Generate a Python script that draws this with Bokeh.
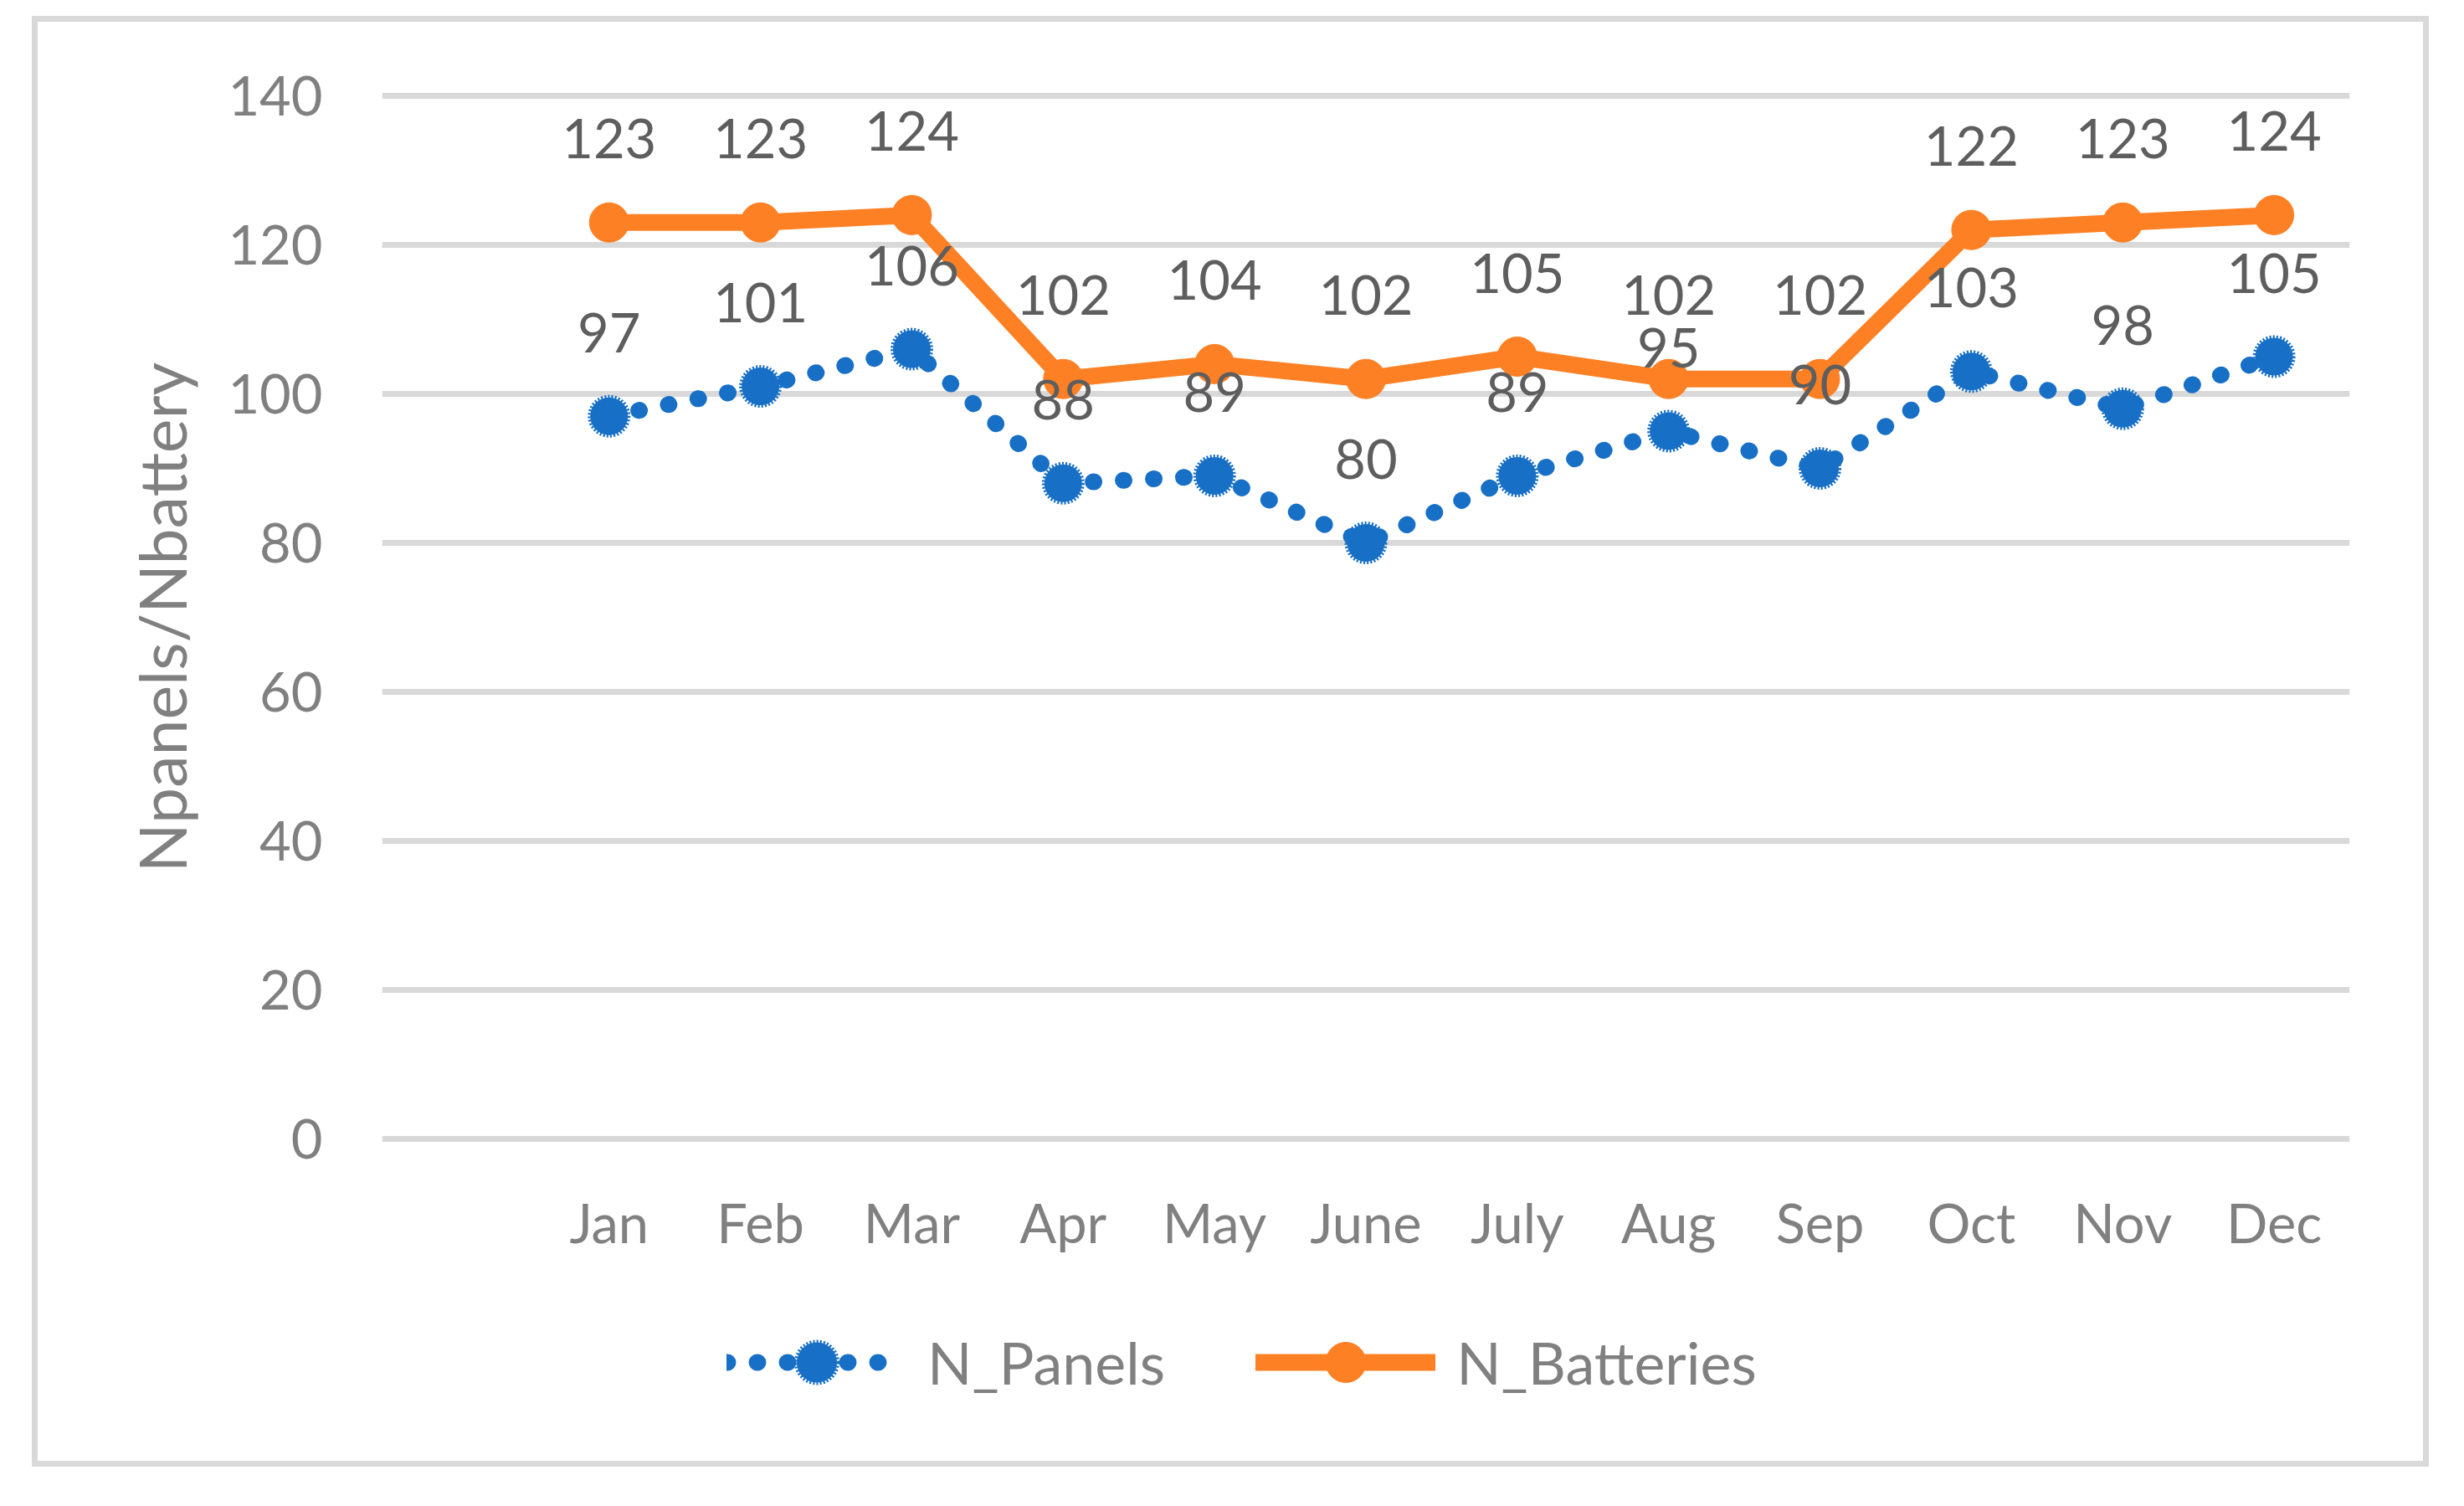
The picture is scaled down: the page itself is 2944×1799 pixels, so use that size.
from bokeh.plotting import figure
from bokeh.layouts import column
from bokeh.models import (ColumnDataSource, FactorRange, Range1d, FixedTicker,
                          Legend, LegendItem)
from bokeh.core.properties import value
from bokeh.embed import file_html
from bokeh.resources import INLINE

# ---- data ----
months = ["Jan", "Feb", "Mar", "Apr", "May", "June", "July", "Aug", "Sep", "Oct", "Nov", "Dec"]
n_panels = [97, 101, 106, 88, 89, 80, 89, 95, 90, 103, 98, 105]
n_batteries = [123, 123, 124, 102, 104, 102, 105, 102, 102, 122, 123, 124]
y_ticks = [0, 20, 40, 60, 80, 100, 120, 140]
y_title = "Npanels/Nbattery"
series_names = ["N_Panels", "N_Batteries"]

BLUE = "#1870C6"
ORANGE = "#FE8024"
TICK_GRAY = "#808080"
LABEL_GRAY = "#5E5E5E"
FONT = "Lato"
FS = "65px"

src = ColumnDataSource(dict(
    m=months,
    panels=n_panels,
    batteries=n_batteries,
    panels_txt=[str(v) for v in n_panels],
    batteries_txt=[str(v) for v in n_batteries],
))

factors = [" "] + months

PANEL_LINE = dict(line_color=BLUE, line_width=20, line_dash="1 35",
                  line_cap="round", line_join="round")
PANEL_MARK = dict(marker="circle", size=45, fill_color=BLUE, line_color=BLUE,
                  line_width=6, line_dash="2 2")
BATT_LINE = dict(line_color=ORANGE, line_width=20, line_join="round", line_cap="round")
BATT_MARK = dict(marker="circle", size=47, fill_color=ORANGE, line_color=ORANGE,
                 line_width=1)

p = figure(
    width=2850, height=1504,
    x_range=FactorRange(factors=factors, range_padding=0),
    y_range=Range1d(-0.45, 140.45),
    output_backend="svg", toolbar_location=None,
    min_border_left=411, min_border_right=88,
    min_border_top=84, min_border_bottom=166,
)
p.outline_line_color = None
p.background_fill_color = "white"
p.border_fill_color = "white"

# grid
p.xgrid.grid_line_color = None
p.ygrid.grid_line_color = "#D9D9D9"
p.ygrid.grid_line_width = 7
p.yaxis.ticker = FixedTicker(ticks=y_ticks)

# axes
for ax in (p.xaxis[0], p.yaxis[0]):
    ax.axis_line_color = None
    ax.major_tick_line_color = None
    ax.minor_tick_line_color = None
    ax.major_tick_out = 0
    ax.major_tick_in = 0
    ax.major_label_text_font = FONT
    ax.major_label_text_font_size = FS
    ax.major_label_text_color = TICK_GRAY

p.yaxis.major_label_standoff = 71
p.xaxis.major_label_standoff = 56
p.yaxis.axis_label = y_title
p.yaxis.axis_label_text_font = FONT
p.yaxis.axis_label_text_font_size = "77px"
p.yaxis.axis_label_text_font_style = "normal"
p.yaxis.axis_label_text_color = TICK_GRAY
p.yaxis.axis_label_standoff = 30

# series
p.line("m", "panels", source=src, **PANEL_LINE)
p.scatter("m", "panels", source=src, **PANEL_MARK)
p.line("m", "batteries", source=src, **BATT_LINE)
p.scatter("m", "batteries", source=src, **BATT_MARK)

# data labels
p.text("m", "panels", text="panels_txt", source=src, y_offset=-100,
       text_align="center", text_baseline="middle",
       text_font=value(FONT), text_font_size=FS, text_color=LABEL_GRAY)
p.text("m", "batteries", text="batteries_txt", source=src, y_offset=-100,
       text_align="center", text_baseline="middle",
       text_font=value(FONT), text_font_size=FS, text_color=LABEL_GRAY)

# ---- legend strip below the chart ----
lf = figure(
    width=2850, height=215,
    x_range=Range1d(0, 1), y_range=Range1d(0, 1),
    output_backend="svg", toolbar_location=None,
    x_axis_location=None, y_axis_location=None,
    min_border_left=0, min_border_right=0, min_border_top=0, min_border_bottom=0,
)
lf.outline_line_color = None
lf.grid.visible = False
lf.background_fill_color = "white"
lf.border_fill_color = "white"

# legend-only renderers (a single point outside the visible range)
e = ColumnDataSource(dict(x=[-5], y=[-5]))
r1 = lf.line("x", "y", source=e, **PANEL_LINE)
r2 = lf.scatter("x", "y", source=e, **PANEL_MARK)
r3 = lf.line("x", "y", source=e, **BATT_LINE)
r4 = lf.scatter("x", "y", source=e, **BATT_MARK)

legend = Legend(
    items=[LegendItem(label=series_names[0], renderers=[r1, r2]),
           LegendItem(label=series_names[1], renderers=[r3, r4])],
    orientation="horizontal",
    location=(412, 58),
    glyph_width=215, glyph_height=120,
    label_standoff=25, spacing=108,
    padding=0, margin=0,
    border_line_alpha=0, background_fill_alpha=0,
    label_text_font=FONT, label_text_font_size="70px",
    label_text_color=TICK_GRAY,
)
lf.add_layout(legend, "center")

layout = column(p, lf, spacing=0,
                styles={"margin-left": "38px", "margin-top": "19px",
                        "border": "7px solid #D9D9D9"})

open("out.html", "w").write(file_html(layout, INLINE))
